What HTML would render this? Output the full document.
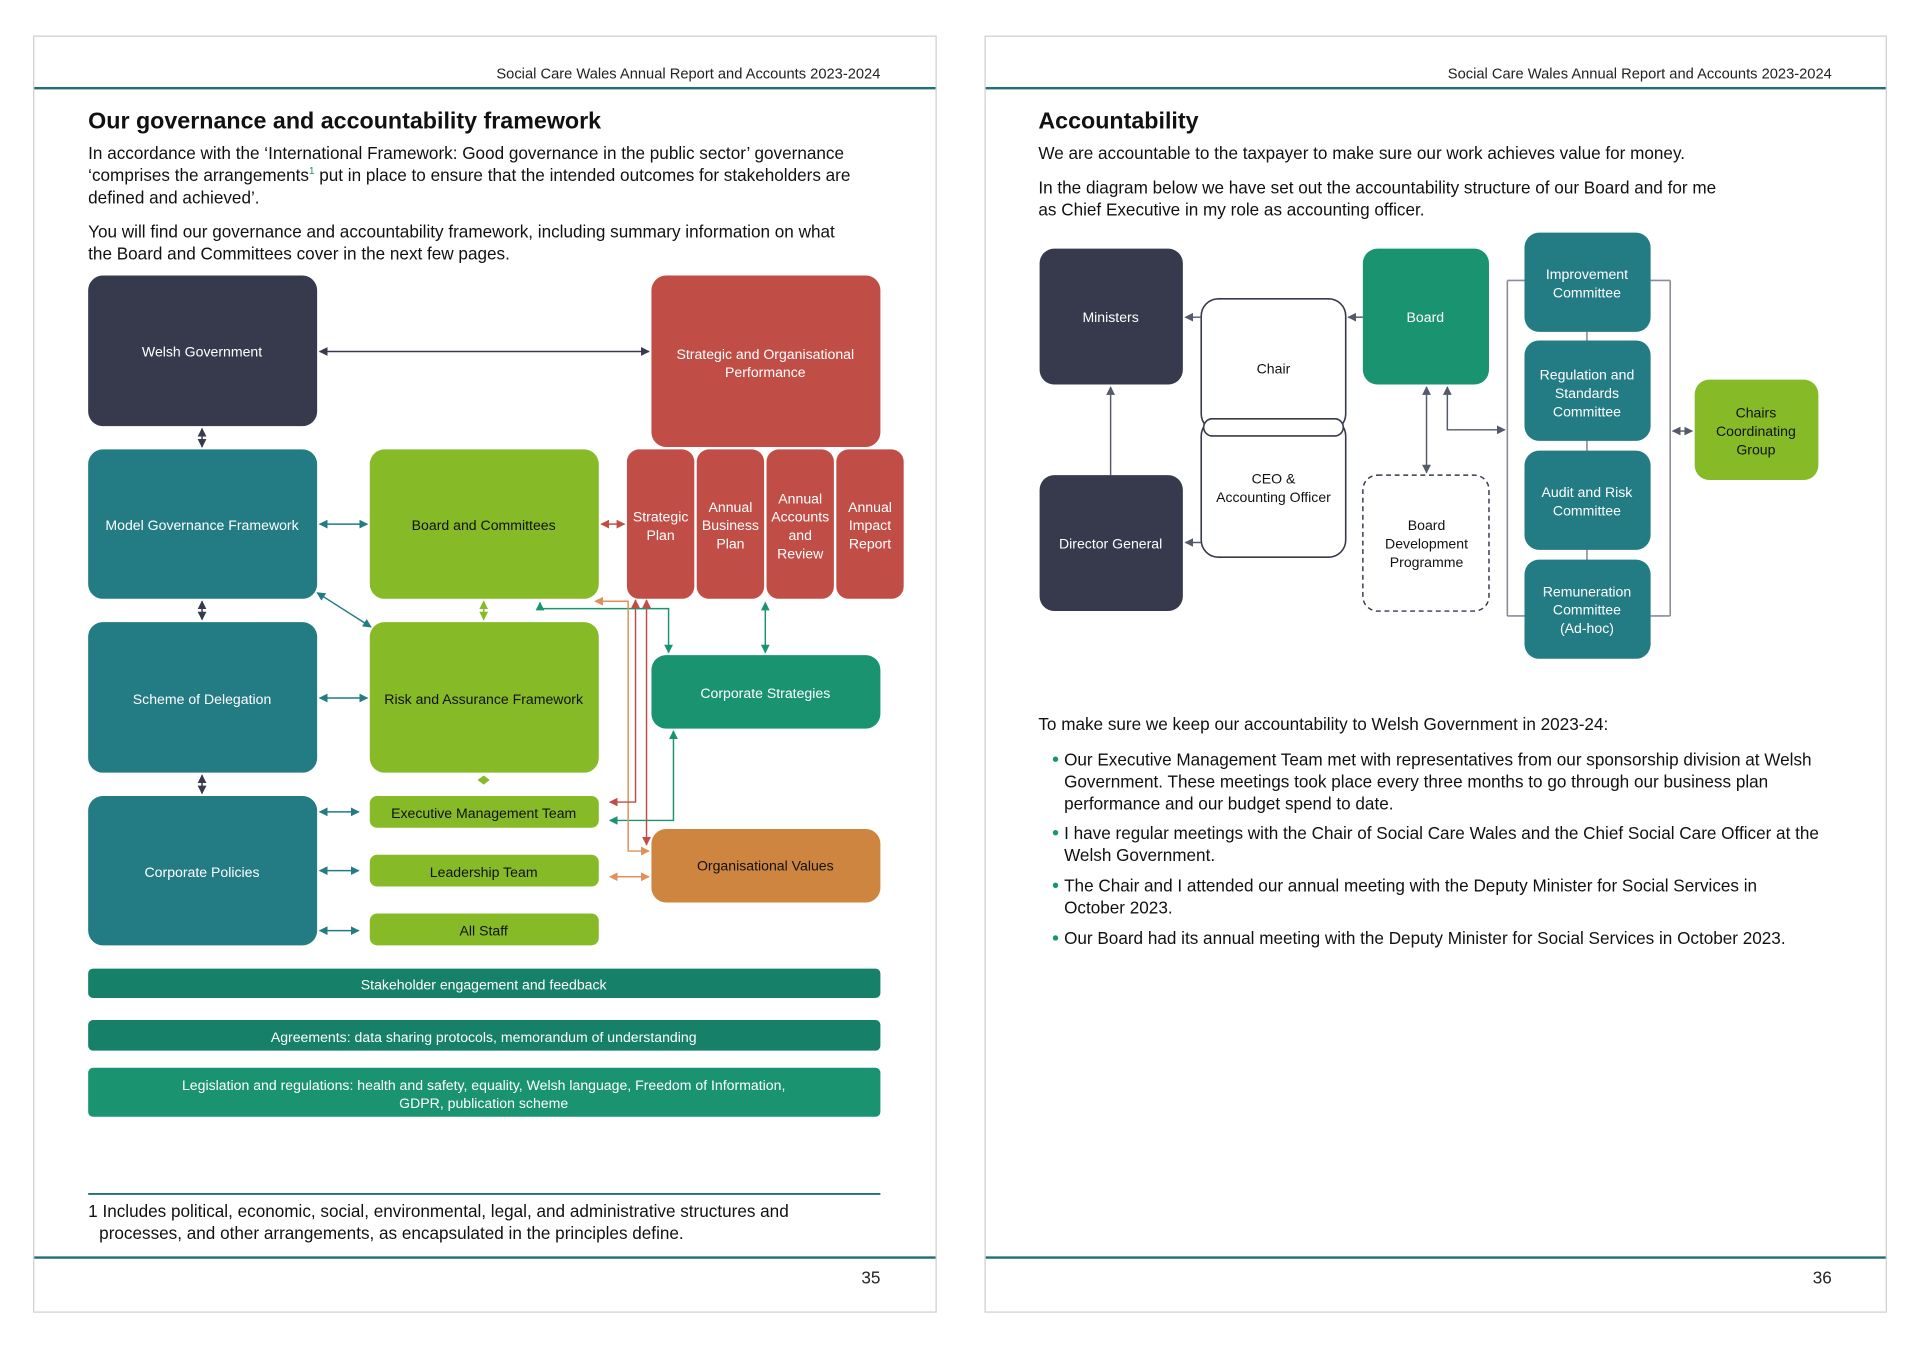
<!DOCTYPE html>
<html><head><meta charset="utf-8"><style>
html,body{margin:0;padding:0;background:#fff;}
svg{display:block;}
text{font-family:"Liberation Sans",sans-serif;}
</style></head><body>
<svg width="1920" height="1347" viewBox="0 0 1568 1100" xmlns="http://www.w3.org/2000/svg">
<defs>
<marker id="a" viewBox="0 0 10 10" refX="9" refY="5" markerWidth="6" markerHeight="6" orient="auto-start-reverse"><path d="M0,0L10,5L0,10z" fill="context-stroke"/></marker>
</defs>
<rect x="0" y="0" width="1568" height="1100" fill="#fff"/>
<!-- page borders -->
<rect x="27.5" y="29.5" width="737" height="1042" fill="none" stroke="#cfcfcf"/>
<rect x="804.5" y="29.5" width="736" height="1042" fill="none" stroke="#cfcfcf"/>
<line x1="28" y1="72" x2="764" y2="72" stroke="#1f6f78" stroke-width="2"/>
<line x1="805" y1="72" x2="1540" y2="72" stroke="#1f6f78" stroke-width="2"/>
<line x1="28" y1="1027" x2="764" y2="1027" stroke="#1f6f78" stroke-width="2"/>
<line x1="805" y1="1027" x2="1540" y2="1027" stroke="#1f6f78" stroke-width="2"/>
<g font-size="12" fill="#222" text-anchor="end">
<text x="719" y="64">Social Care Wales Annual Report and Accounts 2023-2024</text>
<text x="1496" y="64">Social Care Wales Annual Report and Accounts 2023-2024</text>
</g>
<g font-size="14" fill="#222" text-anchor="end"><text x="719" y="1048">35</text><text x="1496" y="1048">36</text></g>

<!-- page 1 text -->
<text x="72" y="105" font-size="19" font-weight="bold" fill="#111">Our governance and accountability framework</text>
<g font-size="14" fill="#111">
<text x="72" y="130">In accordance with the ‘International Framework: Good governance in the public sector’ governance</text>
<text x="72" y="148">‘comprises the arrangements<tspan font-size="8" dy="-6" fill="#1a8a7a">1</tspan><tspan dy="6"> put in place to ensure that the intended outcomes for stakeholders are</tspan></text>
<text x="72" y="166">defined and achieved’.</text>
<text x="72" y="194">You will find our governance and accountability framework, including summary information on what</text>
<text x="72" y="212">the Board and Committees cover in the next few pages.</text>
<text x="72" y="994">1 Includes political, economic, social, environmental, legal, and administrative structures and</text>
<text x="81" y="1012">processes, and other arrangements, as encapsulated in the principles define.</text>
</g>
<line x1="72" y1="975" x2="719" y2="975" stroke="#1f6f78" stroke-width="1.5"/>

<!-- page 1 boxes -->
<g>
<rect x="72" y="225" width="187" height="123" rx="12" fill="#363a4c"/>
<rect x="532" y="225" width="187" height="140" rx="12" fill="#c04e47"/>
<rect x="72" y="367" width="187" height="122" rx="12" fill="#237b84"/>
<rect x="302" y="367" width="187" height="122" rx="12" fill="#86bb27"/>
<rect x="512" y="367" width="55" height="122" rx="10" fill="#c04e47"/>
<rect x="569" y="367" width="55" height="122" rx="10" fill="#c04e47"/>
<rect x="626" y="367" width="55" height="122" rx="10" fill="#c04e47"/>
<rect x="683" y="367" width="55" height="122" rx="10" fill="#c04e47"/>
<rect x="72" y="508" width="187" height="123" rx="12" fill="#237b84"/>
<rect x="302" y="508" width="187" height="123" rx="12" fill="#86bb27"/>
<rect x="532" y="535" width="187" height="60" rx="12" fill="#1a9470"/>
<rect x="72" y="650" width="187" height="122" rx="12" fill="#237b84"/>
<rect x="302" y="650" width="187" height="26" rx="6" fill="#86bb27"/>
<rect x="302" y="698" width="187" height="26" rx="6" fill="#86bb27"/>
<rect x="302" y="746" width="187" height="26" rx="6" fill="#86bb27"/>
<rect x="532" y="677" width="187" height="60" rx="12" fill="#cd853f"/>
<rect x="72" y="791" width="647" height="24" rx="4" fill="#178068"/>
<rect x="72" y="833" width="647" height="25" rx="4" fill="#178068"/>
<rect x="72" y="872" width="647" height="40" rx="4" fill="#1a9470"/>
</g>
<g font-size="11.5" fill="#fff" text-anchor="middle">
<text x="165" y="291">Welsh Government</text>
<text x="625" y="293">Strategic and Organisational</text>
<text x="625" y="308">Performance</text>
<text x="165" y="433">Model Governance Framework</text>
<text x="539.5" y="426">Strategic</text><text x="539.5" y="441">Plan</text>
<text x="596.5" y="418">Annual</text><text x="596.5" y="433">Business</text><text x="596.5" y="448">Plan</text>
<text x="653.5" y="411">Annual</text><text x="653.5" y="426">Accounts</text><text x="653.5" y="441">and</text><text x="653.5" y="456">Review</text>
<text x="710.5" y="418">Annual</text><text x="710.5" y="433">Impact</text><text x="710.5" y="448">Report</text>
<text x="165" y="575">Scheme of Delegation</text>
<text x="625" y="570">Corporate Strategies</text>
<text x="165" y="716">Corporate Policies</text>
<text x="395" y="808">Stakeholder engagement and feedback</text>
<text x="395" y="851">Agreements: data sharing protocols, memorandum of understanding</text>
<text x="395" y="890">Legislation and regulations: health and safety, equality, Welsh language, Freedom of Information,</text>
<text x="395" y="905">GDPR, publication scheme</text>
</g>
<g font-size="11.5" fill="#111" text-anchor="middle">
<text x="395" y="433">Board and Committees</text>
<text x="395" y="575">Risk and Assurance Framework</text>
<text x="395" y="668">Executive Management Team</text>
<text x="395" y="716">Leadership Team</text>
<text x="395" y="764">All Staff</text>
<text x="625" y="711">Organisational Values</text>
</g>
<!-- page 1 connectors -->
<g fill="none" stroke-width="1.2">
<line x1="261" y1="287" x2="530" y2="287" stroke="#363a4c" marker-start="url(#a)" marker-end="url(#a)"/>
<line x1="165" y1="350" x2="165" y2="365" stroke="#363a4c" marker-start="url(#a)" marker-end="url(#a)"/>
<line x1="165" y1="491" x2="165" y2="506" stroke="#363a4c" marker-start="url(#a)" marker-end="url(#a)"/>
<line x1="165" y1="633" x2="165" y2="648" stroke="#363a4c" marker-start="url(#a)" marker-end="url(#a)"/>
<line x1="261" y1="428" x2="300" y2="428" stroke="#237b84" marker-start="url(#a)" marker-end="url(#a)"/>
<line x1="261" y1="570" x2="300" y2="570" stroke="#237b84" marker-start="url(#a)" marker-end="url(#a)"/>
<line x1="259" y1="484" x2="303" y2="512" stroke="#237b84" marker-start="url(#a)" marker-end="url(#a)"/>
<line x1="261" y1="663" x2="293" y2="663" stroke="#237b84" marker-start="url(#a)" marker-end="url(#a)"/>
<line x1="261" y1="711" x2="293" y2="711" stroke="#237b84" marker-start="url(#a)" marker-end="url(#a)"/>
<line x1="261" y1="760" x2="293" y2="760" stroke="#237b84" marker-start="url(#a)" marker-end="url(#a)"/>
<line x1="491" y1="428" x2="510" y2="428" stroke="#c04e47" marker-start="url(#a)" marker-end="url(#a)"/>
<line x1="395" y1="491" x2="395" y2="506" stroke="#86bb27" marker-start="url(#a)" marker-end="url(#a)"/>
<path d="M395,634 L399,637 L395,640 L391,637Z" fill="#86bb27" stroke="#86bb27"/>
<polyline points="441,492 441,497 546,497 546,533" stroke="#1a9470" marker-start="url(#a)" marker-end="url(#a)"/>
<line x1="625" y1="492" x2="625" y2="533" stroke="#1a9470" marker-start="url(#a)" marker-end="url(#a)"/>
<polyline points="550,597 550,670 498,670" stroke="#1a9470" marker-start="url(#a)" marker-end="url(#a)"/>
<polyline points="486,491 513,491 513,695 530,695" stroke="#e0905a" marker-start="url(#a)" marker-end="url(#a)"/>
<polyline points="519,490 519,655 498,655" stroke="#c04e47" marker-start="url(#a)" marker-end="url(#a)"/>
<polyline points="528,490 528,690" stroke="#c04e47" marker-start="url(#a)" marker-end="url(#a)"/>
<line x1="498" y1="716" x2="530" y2="716" stroke="#e0905a" marker-start="url(#a)" marker-end="url(#a)"/>
</g>

<!-- page 2 text -->
<text x="848" y="105" font-size="19" font-weight="bold" fill="#111">Accountability</text>
<g font-size="14" fill="#111">
<text x="848" y="130">We are accountable to the taxpayer to make sure our work achieves value for money.</text>
<text x="848" y="158">In the diagram below we have set out the accountability structure of our Board and for me</text>
<text x="848" y="176">as Chief Executive in my role as accounting officer.</text>
<text x="848" y="596">To make sure we keep our accountability to Welsh Government in 2023-24:</text>
<text x="869" y="625">Our Executive Management Team met with representatives from our sponsorship division at Welsh</text>
<text x="869" y="643">Government. These meetings took place every three months to go through our business plan</text>
<text x="869" y="661">performance and our budget spend to date.</text>
<text x="869" y="685">I have regular meetings with the Chair of Social Care Wales and the Chief Social Care Officer at the</text>
<text x="869" y="703">Welsh Government.</text>
<text x="869" y="728">The Chair and I attended our annual meeting with the Deputy Minister for Social Services in</text>
<text x="869" y="746">October 2023.</text>
<text x="869" y="771">Our Board had its annual meeting with the Deputy Minister for Social Services in October 2023.</text>
</g>
<g fill="#1a9470"><circle cx="862" cy="620" r="2.2"/><circle cx="862" cy="680" r="2.2"/><circle cx="862" cy="723" r="2.2"/><circle cx="862" cy="766" r="2.2"/></g>

<!-- page 2 diagram -->
<g>
<rect x="849" y="203" width="117" height="111" rx="12" fill="#363a4c"/>
<rect x="849" y="388" width="117" height="111" rx="12" fill="#363a4c"/>
<rect x="981" y="244" width="118" height="108" rx="14" fill="#fff" stroke="#363a4c" stroke-width="1.3"/>
<rect x="981" y="342" width="118" height="113" rx="14" fill="#fff" stroke="#363a4c" stroke-width="1.3"/>
<rect x="983" y="342" width="114" height="14" rx="7" fill="#fff" stroke="#363a4c" stroke-width="1.3"/>
<rect x="1113" y="203" width="103" height="111" rx="12" fill="#1a9470"/>
<rect x="1113" y="388" width="103" height="111" rx="12" fill="#fff" stroke="#363a4c" stroke-width="1.2" stroke-dasharray="4,3"/>
<line x1="1231" y1="229" x2="1231" y2="503" stroke="#8a8d99" stroke-width="1.3"/>
<line x1="1364" y1="229" x2="1364" y2="503" stroke="#8a8d99" stroke-width="1.3"/>
<line x1="1231" y1="229" x2="1245" y2="229" stroke="#8a8d99" stroke-width="1.3"/>
<line x1="1231" y1="503" x2="1245" y2="503" stroke="#8a8d99" stroke-width="1.3"/>
<line x1="1348" y1="229" x2="1364" y2="229" stroke="#8a8d99" stroke-width="1.3"/>
<line x1="1348" y1="503" x2="1364" y2="503" stroke="#8a8d99" stroke-width="1.3"/>
<line x1="1296" y1="270" x2="1296" y2="460" stroke="#8a8d99" stroke-width="1.3"/>
<rect x="1245" y="190" width="103" height="81" rx="12" fill="#237b84"/>
<rect x="1245" y="278" width="103" height="82" rx="12" fill="#237b84"/>
<rect x="1245" y="368" width="103" height="81" rx="12" fill="#237b84"/>
<rect x="1245" y="457" width="103" height="81" rx="12" fill="#237b84"/>
<rect x="1384" y="310" width="101" height="82" rx="12" fill="#86bb27"/>
</g>
<g fill="none" stroke-width="1.2" stroke="#555a6a">
<line x1="981" y1="259" x2="968" y2="259" marker-end="url(#a)"/>
<line x1="981" y1="443" x2="968" y2="443" marker-end="url(#a)"/>
<line x1="1113" y1="259" x2="1101" y2="259" marker-end="url(#a)"/>
<line x1="907" y1="388" x2="907" y2="316" marker-end="url(#a)"/>
<line x1="1165" y1="316" x2="1165" y2="386" marker-start="url(#a)" marker-end="url(#a)"/>
<polyline points="1182,316 1182,351 1229,351" marker-start="url(#a)" marker-end="url(#a)"/>
<line x1="1366" y1="352" x2="1382" y2="352" marker-start="url(#a)" marker-end="url(#a)"/>
</g>
<g font-size="11.5" fill="#fff" text-anchor="middle">
<text x="907" y="263">Ministers</text>
<text x="907" y="448">Director General</text>
<text x="1164" y="263">Board</text>
<text x="1296" y="228">Improvement</text><text x="1296" y="243">Committee</text>
<text x="1296" y="310">Regulation and</text><text x="1296" y="325">Standards</text><text x="1296" y="340">Committee</text>
<text x="1296" y="406">Audit and Risk</text><text x="1296" y="421">Committee</text>
<text x="1296" y="487">Remuneration</text><text x="1296" y="502">Committee</text><text x="1296" y="517">(Ad-hoc)</text>
</g>
<g font-size="11.5" fill="#111" text-anchor="middle">
<text x="1040" y="305">Chair</text>
<text x="1040" y="395">CEO &amp;</text><text x="1040" y="410">Accounting Officer</text>
<text x="1165" y="433">Board</text><text x="1165" y="448">Development</text><text x="1165" y="463">Programme</text>
<text x="1434" y="341">Chairs</text><text x="1434" y="356">Coordinating</text><text x="1434" y="371">Group</text>
</g>
</svg>
</body></html>
